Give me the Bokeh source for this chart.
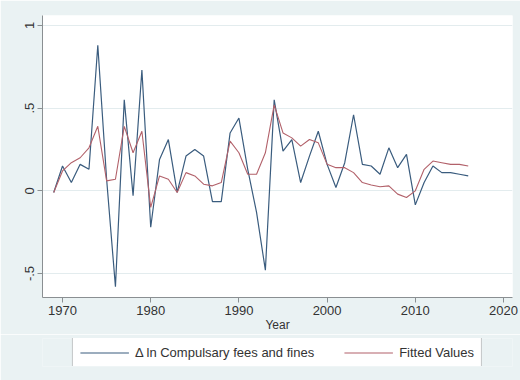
from bokeh.plotting import figure
from bokeh.models import FixedTicker, Legend, LegendItem, Range1d
from bokeh.layouts import column
from bokeh.embed import file_html
from bokeh.resources import INLINE

years = [1969, 1970, 1971, 1972, 1973, 1974, 1975, 1976, 1977, 1978,
         1979, 1980, 1981, 1982, 1983, 1984, 1985, 1986, 1987, 1988,
         1989, 1990, 1991, 1992, 1993, 1994, 1995, 1996, 1997, 1998,
         1999, 2000, 2001, 2002, 2003, 2004, 2005, 2006, 2007, 2008,
         2009, 2010, 2011, 2012, 2013, 2014, 2015, 2016]

dln_fees = [-0.01, 0.15, 0.05, 0.16, 0.13, 0.88, 0.07, -0.58, 0.55, -0.03,
            0.73, -0.22, 0.19, 0.31, -0.01, 0.21, 0.25, 0.21, -0.065, -0.065,
            0.35, 0.44, 0.13, -0.13, -0.48, 0.55, 0.24, 0.31, 0.05, 0.21,
            0.36, 0.16, 0.02, 0.17, 0.46, 0.16, 0.15, 0.10, 0.26, 0.14,
            0.22, -0.085, 0.05, 0.15, 0.11, 0.11, 0.10, 0.09]

fitted = [-0.01, 0.12, 0.17, 0.20, 0.26, 0.39, 0.06, 0.07, 0.39, 0.23,
          0.36, -0.10, 0.09, 0.07, -0.01, 0.11, 0.09, 0.04, 0.03, 0.05,
          0.30, 0.23, 0.10, 0.10, 0.23, 0.52, 0.35, 0.32, 0.27, 0.31,
          0.29, 0.16, 0.14, 0.14, 0.11, 0.05, 0.035, 0.025, 0.03, -0.02,
          -0.04, 0.0, 0.13, 0.18, 0.17, 0.16, 0.16, 0.15]

x_ticks = [1970, 1980, 1990, 2000, 2010, 2020]
y_ticks = [-0.5, 0, 0.5, 1]
y_tick_labels = {-0.5: "-.5", 0: "0", 0.5: ".5", 1: "1"}

label1 = "\u0394 ln Compulsary fees and fines"
label2 = "Fitted Values"

BG = "#eaf2f3"
FONT = "Liberation Sans"
BLUE = "#3a5c7e"
RED = "#b2616a"

# ---- main chart ----
p = figure(frame_width=470, frame_height=282, output_backend="svg",
           toolbar_location=None,
           x_range=Range1d(1967.73, 2021.02), y_range=Range1d(-0.645, 1.06),
           min_border_left=42, min_border_right=8, min_border_top=15,
           min_border_bottom=36)
p.border_fill_color = BG
p.background_fill_color = "white"
p.outline_line_color = None

p.line(years, dln_fees, line_color=BLUE, line_width=1.2)
p.line(years, fitted, line_color=RED, line_width=1.1)

p.xgrid.grid_line_color = None
p.ygrid.ticker = FixedTicker(ticks=y_ticks)
p.ygrid.grid_line_color = "#e3ecee"
p.ygrid.grid_line_width = 1

for ax in (p.xaxis[0], p.yaxis[0]):
    ax.axis_line_color = "#8a8f92"
    ax.major_tick_line_color = "#8a8f92"
    ax.major_tick_out = 5
    ax.major_tick_in = 0
    ax.minor_tick_line_color = None
    ax.major_label_text_font = FONT
    ax.major_label_text_color = "#333333"
    ax.major_label_text_font_size = "13px"

p.xaxis.ticker = FixedTicker(ticks=x_ticks)
p.xaxis.major_label_standoff = 3
p.xaxis.axis_label = "Year"
p.xaxis.axis_label_text_font = FONT
p.xaxis.axis_label_text_font_style = "normal"
p.xaxis.axis_label_text_font_size = "12px"
p.xaxis.axis_label_text_color = "#333333"
p.xaxis.axis_label_standoff = 0

p.yaxis.ticker = FixedTicker(ticks=y_ticks)
p.yaxis.major_label_overrides = y_tick_labels
p.yaxis.major_label_orientation = "vertical"
p.yaxis.major_label_standoff = 3

# ---- legend strip (same series, lines kept outside its view) ----
p2 = figure(frame_width=470, frame_height=28, output_backend="svg",
            toolbar_location=None,
            x_range=Range1d(0, 1), y_range=Range1d(0, 1),
            x_axis_type=None, y_axis_type=None,
            min_border_left=42, min_border_right=8, min_border_top=4,
            min_border_bottom=15)
p2.border_fill_color = BG
p2.background_fill_color = BG
p2.outline_line_color = None
p2.grid.grid_line_color = None
l1 = p2.line(years, dln_fees, line_color=BLUE, line_width=1.2)
l2 = p2.line(years, fitted, line_color=RED, line_width=1.1)

legend = Legend(items=[LegendItem(label=label1, renderers=[l1]),
                       LegendItem(label=label2, renderers=[l2])],
                orientation="horizontal", location="center")
legend.label_text_font = FONT
legend.label_text_font_size = "13px"
legend.label_text_color = "#333333"
legend.glyph_width = 49
legend.glyph_height = 12
legend.label_height = 12
legend.label_standoff = 6
legend.spacing = 30
legend.padding = 7
legend.margin = 0
legend.border_line_color = "#8a8f92"
legend.border_line_width = 1
legend.background_fill_color = "white"
legend.background_fill_alpha = 1
p2.add_layout(legend, "center")

layout = column(p, p2, spacing=0)

html = file_html(layout, INLINE)
html = html.replace("<body>", '<body style="background-color:%s">' % BG, 1)
open("out.html", "w").write(html)
